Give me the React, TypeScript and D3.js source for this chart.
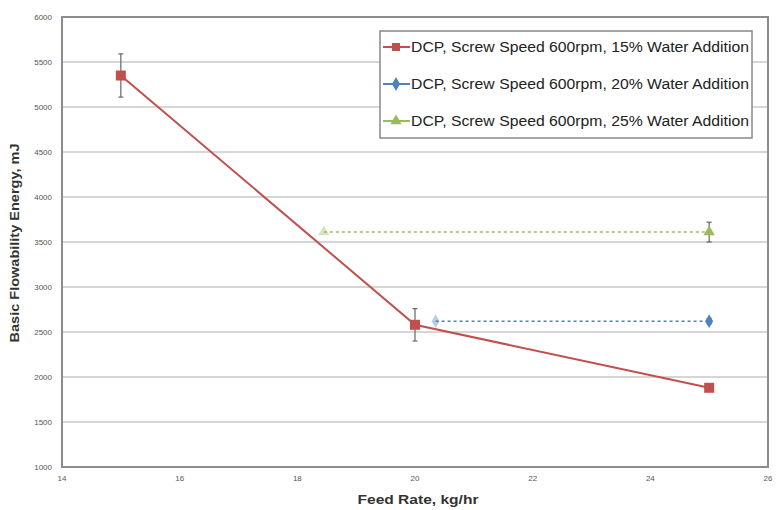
import React, { useRef, useEffect } from 'react';
import * as d3 from 'd3';

// Feed rate (kg/hr) vs basic flowability energy (mJ)
const redX = [15, 20, 25];
const redY = [5350, 2580, 1880];
const redErr = [240, 180, 40];

const blueX = [20.35, 25];
const blueY = [2620, 2620];
const blueErr = [0, 30];

const greenX = [18.45, 25];
const greenY = [3610, 3610];
const greenErr = [0, 110];

const seriesNames = [
  'DCP, Screw Speed 600rpm, 15% Water Addition',
  'DCP, Screw Speed 600rpm, 20% Water Addition',
  'DCP, Screw Speed 600rpm, 25% Water Addition',
];
const xTicks = [14, 16, 18, 20, 22, 24, 26];
const yTicks = [1000, 1500, 2000, 2500, 3000, 3500, 4000, 4500, 5000, 5500, 6000];

const RED = '#c0504d';
const BLUE = '#4f81bd';
const GREEN = '#9bbb59';
const FONT = 'Liberation Sans, Arial, sans-serif';

const App = () => {
  const ref = useRef<SVGSVGElement>(null);

  useEffect(() => {
    const width = 776;
    const height = 510;
    const left = 62, right = 768, top = 17, bottom = 467;

    const svg = d3.select(ref.current);
    svg.selectAll('*').remove();
    svg.attr('width', width).attr('height', height);

    const x = d3.scaleLinear().domain([14, 26]).range([left, right]);
    const y = d3.scaleLinear().domain([1000, 6000]).range([bottom, top]);

    // gridlines
    svg.append('g')
      .selectAll('line')
      .data(yTicks)
      .enter().append('line')
      .attr('x1', left).attr('x2', right)
      .attr('y1', d => y(d)).attr('y2', d => y(d))
      .attr('stroke', '#c8c8c8')
      .attr('stroke-width', 1.5);

    // plot border
    svg.append('rect')
      .attr('x', left).attr('y', top)
      .attr('width', right - left).attr('height', bottom - top)
      .attr('fill', 'none')
      .attr('stroke', '#8c8c8c')
      .attr('stroke-width', 2);

    // tick labels
    svg.append('g')
      .selectAll('text')
      .data(yTicks)
      .enter().append('text')
      .attr('x', left - 10)
      .attr('y', d => y(d))
      .attr('dy', '0.35em')
      .attr('text-anchor', 'end')
      .attr('font-family', FONT)
      .attr('font-size', 8)
      .attr('fill', '#555')
      .text(d => d);

    svg.append('g')
      .selectAll('text')
      .data(xTicks)
      .enter().append('text')
      .attr('x', d => x(d))
      .attr('y', bottom + 14)
      .attr('text-anchor', 'middle')
      .attr('font-family', FONT)
      .attr('font-size', 8)
      .attr('fill', '#555')
      .text(d => d);

    // axis titles
    svg.append('text')
      .attr('x', 418)
      .attr('y', 504)
      .attr('text-anchor', 'middle')
      .attr('font-family', FONT)
      .attr('font-weight', 'bold')
      .attr('font-size', 13)
      .attr('fill', '#333')
      .attr('textLength', 121)
      .attr('lengthAdjust', 'spacingAndGlyphs')
      .text('Feed Rate, kg/hr');

    svg.append('text')
      .attr('transform', `translate(19, 243) rotate(-90)`)
      .attr('text-anchor', 'middle')
      .attr('font-family', FONT)
      .attr('font-weight', 'bold')
      .attr('font-size', 13)
      .attr('fill', '#333')
      .attr('textLength', 199)
      .attr('lengthAdjust', 'spacingAndGlyphs')
      .text('Basic Flowability Energy, mJ');

    const line = d3.line<[number, number]>()
      .x(d => x(d[0]))
      .y(d => y(d[1]));

    const errorBars = (xs: number[], ys: number[], es: number[]) => {
      const g = svg.append('g').attr('stroke', '#666').attr('stroke-width', 1.2);
      xs.forEach((xv, i) => {
        if (!es[i]) return;
        const cx = x(xv);
        g.append('line').attr('x1', cx).attr('x2', cx)
          .attr('y1', y(ys[i] + es[i])).attr('y2', y(ys[i] - es[i]));
        g.append('line').attr('x1', cx - 2.5).attr('x2', cx + 2.5)
          .attr('y1', y(ys[i] + es[i])).attr('y2', y(ys[i] + es[i]));
        g.append('line').attr('x1', cx - 2.5).attr('x2', cx + 2.5)
          .attr('y1', y(ys[i] - es[i])).attr('y2', y(ys[i] - es[i]));
      });
    };

    // dashed series
    svg.append('path')
      .datum(greenX.map((v, i) => [v, greenY[i]] as [number, number]))
      .attr('d', line)
      .attr('fill', 'none')
      .attr('stroke', GREEN)
      .attr('stroke-width', 1.5)
      .attr('stroke-dasharray', '3,3');
    svg.append('path')
      .datum(blueX.map((v, i) => [v, blueY[i]] as [number, number]))
      .attr('d', line)
      .attr('fill', 'none')
      .attr('stroke', BLUE)
      .attr('stroke-width', 1.5)
      .attr('stroke-dasharray', '3,3');

    // red series
    svg.append('path')
      .datum(redX.map((v, i) => [v, redY[i]] as [number, number]))
      .attr('d', line)
      .attr('fill', 'none')
      .attr('stroke', RED)
      .attr('stroke-width', 2);

    errorBars(redX, redY, redErr);
    errorBars(blueX, blueY, blueErr);
    errorBars(greenX, greenY, greenErr);

    const diamond = d3.symbol().type(d3.symbolDiamond).size(55);
    const triangle = d3.symbol().type(d3.symbolTriangle).size(55);

    svg.append('g')
      .selectAll('rect')
      .data(redX)
      .enter().append('rect')
      .attr('x', (d) => x(d) - 5)
      .attr('y', (d, i) => y(redY[i]) - 5)
      .attr('width', 10).attr('height', 10)
      .attr('fill', RED);

    svg.append('g')
      .selectAll('path')
      .data(blueX)
      .enter().append('path')
      .attr('d', diamond)
      .attr('transform', (d, i) => `translate(${x(d)},${y(blueY[i])})`)
      .attr('fill', BLUE)
      .attr('opacity', (d, i) => (i === 0 ? 0.4 : 1));

    svg.append('g')
      .selectAll('path')
      .data(greenX)
      .enter().append('path')
      .attr('d', triangle)
      .attr('transform', (d, i) => `translate(${x(d)},${y(greenY[i])})`)
      .attr('fill', GREEN)
      .attr('opacity', (d, i) => (i === 0 ? 0.4 : 1));

    // legend
    const lx = 380, ly = 31;
    svg.append('rect')
      .attr('x', lx).attr('y', ly)
      .attr('width', 372).attr('height', 107)
      .attr('fill', '#fff')
      .attr('stroke', '#888')
      .attr('stroke-width', 1.5);

    const colors = [RED, BLUE, GREEN];
    const legend = svg.append('g')
      .selectAll('g')
      .data(seriesNames)
      .enter().append('g')
      .attr('transform', (d, i) => `translate(${lx + 3}, ${ly + 16 + i * 37})`);

    legend.append('line')
      .attr('x1', 0).attr('x2', 27)
      .attr('stroke', (d, i) => colors[i])
      .attr('stroke-width', 2);

    legend.append('path')
      .attr('d', (d, i) => {
        if (i === 0) return d3.symbol().type(d3.symbolSquare).size(64)();
        if (i === 1) return diamond();
        return triangle();
      })
      .attr('transform', 'translate(13,0)')
      .attr('fill', (d, i) => colors[i]);

    legend.append('text')
      .attr('x', 28)
      .attr('dy', '0.35em')
      .attr('font-family', FONT)
      .attr('font-size', 14)
      .attr('fill', '#222')
      .attr('textLength', 338)
      .attr('lengthAdjust', 'spacingAndGlyphs')
      .text(d => d);
  }, []);

  return <svg ref={ref} style={{ position: 'absolute', left: 0, top: 0 }}></svg>;
};

export default App;
